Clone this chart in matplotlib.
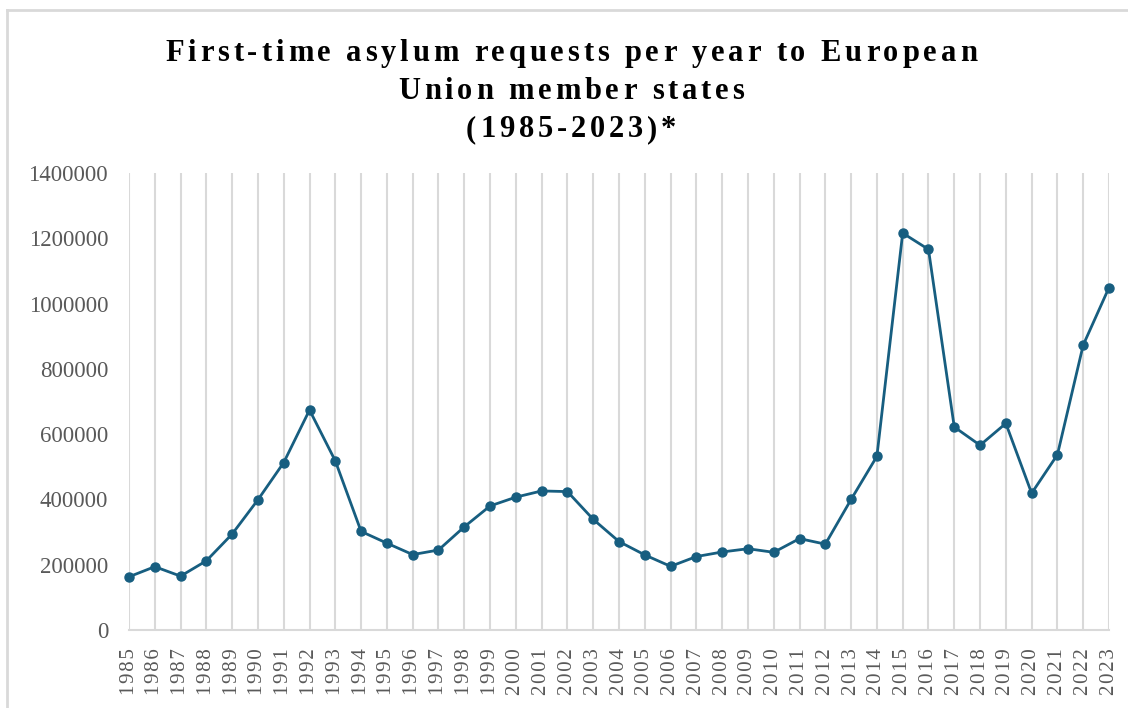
import matplotlib
matplotlib.use('Agg')
import matplotlib.pyplot as plt
from matplotlib.lines import Line2D

years = list(range(1985, 2024))
requests = [163000, 194000, 165000, 212000, 294000, 399000, 513000, 674000,
            518000, 302000, 266000, 231000, 245000, 316000, 380000, 407000,
            426000, 424000, 339000, 271000, 230000, 195000, 225000, 239000,
            249000, 238000, 280000, 263000, 400000, 532000, 1216000, 1166000,
            622000, 566000, 633000, 419000, 537000, 873000, 1049000]
y_ticks = [0, 200000, 400000, 600000, 800000, 1000000, 1200000, 1400000]
title_lines = ["First-time asylum requests per year to European",
               "Union member states",
               "(1985-2023)*"]

W, H = 1128, 708
serif = 'Liberation Serif'
grey = '#595959'
light = '#d9d9d9'
blue = '#175e80'

fig = plt.figure(figsize=(W / 100, H / 100), dpi=100)
ax = fig.add_axes([129 / W, (H - 630) / H, 980 / W, 457 / H])

ax.plot(years, requests, color=blue, lw=2.0, marker='o', ms=6.5,
        clip_on=False, zorder=3)

ax.set_xlim(years[0], years[-1])
ax.set_ylim(0, 1400000)
ax.set_xticks(years)
# hair spaces between digits to mimic the spaced-out labels
ax.set_xticklabels(['\u200a'.join(str(y)) for y in years], rotation=90,
                   fontsize=15, family=[serif, 'DejaVu Serif'], color=grey)
ax.set_yticks(y_ticks)
ax.set_yticklabels([str(v) for v in y_ticks], fontsize=16.5, family=serif,
                   color=grey)
ax.tick_params(axis='x', length=0, pad=13)
ax.tick_params(axis='y', length=0, pad=15)
ax.grid(axis='x', color=light, lw=1.5)
ax.set_axisbelow(True)
for s in ['top', 'right', 'left']:
    ax.spines[s].set_visible(False)
ax.spines['bottom'].set_color(light)
ax.spines['bottom'].set_linewidth(1.5)

# outer frame of the chart (partly cut off)
fig.add_artist(Line2D([7 / W, 1], [(H - 10) / H, (H - 10) / H],
                      color=light, lw=2, transform=fig.transFigure))
fig.add_artist(Line2D([7 / W, 7 / W], [0, (H - 10) / H],
                      color=light, lw=2, transform=fig.transFigure))

# title with letter spacing, drawn char by char
renderer = fig.canvas.get_renderer()
title_size = 22
spacing = 3.85


def width_of(s):
    t = fig.text(0, 0, s, fontsize=title_size, family=serif, fontweight='bold')
    w = t.get_window_extent(renderer).width
    t.remove()
    return w


bar_w = width_of("||")


def advance(c):
    return width_of("|" + c + "|") - bar_w


baselines = [61, 99, 137]
cx = 571
for line, base in zip(title_lines, baselines):
    adv = [advance(c) for c in line]
    total = sum(adv) + spacing * (len(line) - 1)
    x = cx - total / 2
    for c, a in zip(line, adv):
        if c != ' ':
            fig.text(x / W, (H - base) / H, c, fontsize=title_size,
                     family=serif, fontweight='bold', color='black',
                     ha='left', va='baseline')
        x += a + spacing

fig.savefig('out.png', dpi=100)
